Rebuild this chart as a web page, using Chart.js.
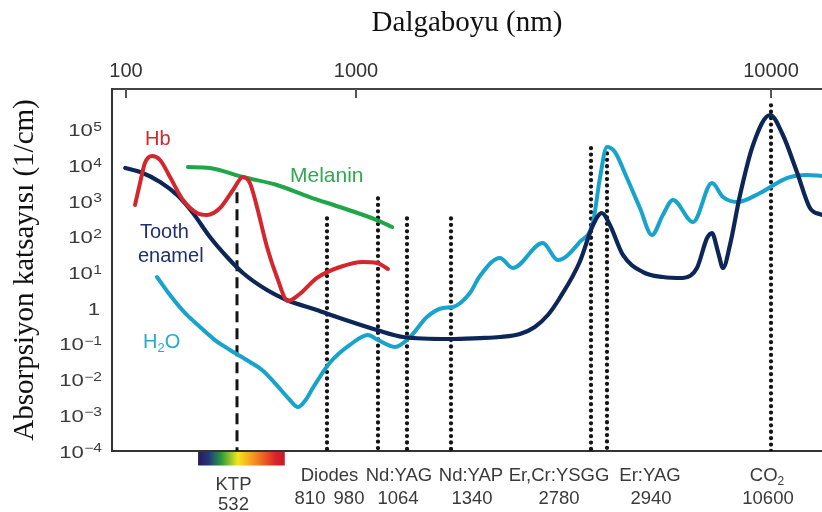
<!DOCTYPE html>
<html><head><meta charset="utf-8">
<script src="https://cdn.jsdelivr.net/npm/chart.js@4.4.1/dist/chart.umd.min.js"></script>
<style>html,body{margin:0;padding:0;background:#fff}#wrap{width:822px;height:512px}</style>
</head><body><div id="wrap"><canvas id="c" width="822" height="512"></canvas></div>
<script>
// ---------------- data (wavelength in nm, absorption coefficient in 1/cm) ----------------
const toothX = [99,124,167,216,274,354,458,547,612,671,772,840,976,1052,1332,1558,1729,1919,2074,2220,2362,2621,2800,2887,3008,3330,3894,4550,5320,5940,6430,6680,7005,7285,7690,8320,9210,10520,11310,12210,13110,14000];
const toothY = [8600,6640,3480,1500,470,100,27.5,9.8,3.26,1.71,0.90,0.57,0.246,0.157,0.138,0.147,0.157,0.19,0.30,0.65,1.95,19.9,217,470,217,31.3,10.4,7.55,7.08,13.5,93.5,129,37.9,13.5,59.6,1500,37900,263000,72300,6640,650,413];

const hbX = [114.5,123.5,133,148,167,194,236,291,339,412,501,547,565,584,612,641,675,713,772,850,926,976,1008];
const hbY = [789,3260,11860,18620,14390,4800,1089,470,413,650,2075,4800,3260,693,52.4,7.55,1.60,2.52,7.08,14.4,19.9,18.7,12.7];

const melX = [254,354,547,641,747,859,976,1020];
const melY = [9160,8590,4800,2865,1321,650,299,190];

const h2oX = [159.5,194,243,305,382,479,565,598,635,681,707,733,758,818,882,944,980,1028,1081,1181,1285,1354,1479,1558,1729,1850,2162,2338,2621,2800,2868,2940,3128,3436,3804,4178,4550,4924,5760,6680,7285,8130,9731,11560,12890,14000];
const h2oY = [7.55,2.36,0.74,0.30,0.129,0.068,0.0313,0.0187,0.00805,0.00269,0.00171,0.00269,0.00583,0.0293,0.0938,0.179,0.129,0.0824,0.157,0.57,1.02,1.09,2.69,8.05,25.8,13.5,67.8,22.6,72.3,263,4500,33300,24100,4500,650,114,413,1089,263,3260,1321,957,1710,4500,5470,5130];

// laser lines
const laserLambda = [532, 810, 980, 1064, 1340, 2780, 2940, 10600];
const laserTop    = [1800, 330, 1200, 330, 330, 31000, 22000, 490000];

// axis ticks
const topTickValues = [100, 1000, 10000];
const yTickValues = [1e-4,1e-3,1e-2,1e-1,1,1e1,1e2,1e3,1e4,1e5];

// visible spectrum band (nm)
const spectrumRange = [296, 665];

// ---------------- axis calibration (schematic, non-uniform wavelength axes) ----------------
const xCalLambda = [83, 100, 532, 810, 980, 1064, 1340, 2780, 2940, 10600, 14000];
const xCalFrac   = [0, 0.01972, 0.17606, 0.30282, 0.37465, 0.41549, 0.47746, 0.67465, 0.69718, 0.92817, 1];
const topCalLambda = [87, 100, 1000, 10000, 13270];
const topCalFrac   = [0, 0.01972, 0.34366, 0.92817, 1];

function makeWarp(lams, fracs){
  const L = lams.map(v => Math.log10(v));
  return {
    toFrac(v){ const lv = Math.log10(v); let i = 0; while (i < L.length-2 && lv > L[i+1]) i++;
      return fracs[i] + (lv-L[i])/(L[i+1]-L[i])*(fracs[i+1]-fracs[i]); },
    fromFrac(f){ let i = 0; while (i < fracs.length-2 && f > fracs[i+1]) i++;
      return Math.pow(10, L[i] + (f-fracs[i])/(fracs[i+1]-fracs[i])*(L[i+1]-L[i])); }
  };
}
const WARPS = { x: makeWarp(xCalLambda, xCalFrac), xTop: makeWarp(topCalLambda, topCalFrac) };

class WarpLogScale extends Chart.LogarithmicScale {
  getPixelForValue(value){
    if (value === null || value === undefined || isNaN(value) || value <= 0) return NaN;
    return this.getPixelForDecimal(WARPS[this.id].toFrac(value));
  }
  getValueForPixel(pixel){ return WARPS[this.id].fromFrac(this.getDecimalForPixel(pixel)); }
}
WarpLogScale.id = 'warplog';
WarpLogScale.defaults = {};
Chart.register(WarpLogScale);

// ---------------- build datasets ----------------
const zip = (xs, ys) => xs.map((x, i) => ({x, y: ys[i]}));
function curve(xs, ys, color, w){
  return { data: zip(xs, ys), borderColor: color, borderWidth: w, pointRadius: 0, fill: false,
           cubicInterpolationMode: 'monotone', xAxisID: 'x', yAxisID: 'y', borderCapStyle: 'round', borderJoinStyle: 'round' };
}
const datasets = [
  curve(hbX, hbY, '#d4272d', 4),
  curve(melX, melY, '#20a548', 4),
  curve(toothX, toothY, '#0c2658', 4.2),
  curve(h2oX, h2oY, '#18a3cc', 4),
];
laserLambda.forEach((lam, i) => {
  const dashed = i === 0;
  datasets.push({
    data: [{x: lam, y: laserTop[i]}, {x: lam, y: 1e-4}],
    borderColor: '#141414', borderWidth: dashed ? 3 : 4.3, pointRadius: 0, fill: false, tension: 0,
    borderDash: dashed ? [11, 6] : [0, 6.4], borderCapStyle: dashed ? 'butt' : 'round',
    xAxisID: 'x', yAxisID: 'y'
  });
});

// ---------------- labels ----------------
const SANS = '"Liberation Sans", Arial, Helvetica, sans-serif';
const laserLabels = [
  {t:'KTP', lam:532, dx:-3.5, base:490}, {t:'532', lam:532, dx:-3.5, base:510},
  {t:'Diodes', lam:810, dx:2.5, base:481}, {t:'810', lam:810, dx:-17, base:504}, {t:'980', lam:980, dx:-29, base:504},
  {t:'Nd:YAG', lam:1064, dx:-8, base:481}, {t:'1064', lam:1064, dx:-9, base:504},
  {t:'Nd:YAP', lam:1340, dx:20, base:481}, {t:'1340', lam:1340, dx:21, base:504},
  {t:'Er,Cr:YSGG', lam:2780, dx:-32, base:481}, {t:'2780', lam:2780, dx:-32, base:504},
  {t:'Er:YAG', lam:2940, dx:43, base:481}, {t:'2940', lam:2940, dx:44, base:504},
  {t:'10600', lam:10600, dx:-3, base:504}
];

function txt(ctx, s, x, y, size, color, align, sx){
  ctx.save(); ctx.font = size + 'px ' + SANS; ctx.fillStyle = color;
  ctx.textAlign = align || 'left'; ctx.textBaseline = 'alphabetic';
  ctx.translate(x, y); ctx.scale(sx || 1, 1); ctx.fillText(s, 0, 0); ctx.restore();
}
function tw(ctx, s, size, sx){ ctx.save(); ctx.font = size + 'px ' + SANS; const w = ctx.measureText(s).width * (sx||1); ctx.restore(); return w; }

const deco = {
  id: 'deco',
  afterDraw(chart){
    const ctx = chart.ctx, ca = chart.chartArea;
    const xs = chart.scales.x, ys = chart.scales.y, xt = chart.scales.xTop;
    // inward tick marks on the top axis
    ctx.save(); ctx.strokeStyle = '#555'; ctx.lineWidth = 2;
    topTickValues.forEach(v => { const px = xt.getPixelForValue(v); ctx.beginPath(); ctx.moveTo(px, ca.top); ctx.lineTo(px, ca.top + 9); ctx.stroke(); });
    ctx.restore();
    // y tick labels with superscripts
    const col = '#3a3a3a';
    yTickValues.forEach(v => {
      const e = Math.round(Math.log10(v)); const py = ys.getPixelForValue(v);
      if (e === 0) { txt(ctx, '1', 100, py + 6.5, 17, col, 'right', 1.3); return; }
      const es = e < 0 ? '\u2212' + (-e) : String(e);
      const ew = tw(ctx, es, 12, 1.3);
      txt(ctx, es, 102, py + 1, 12, col, 'right', 1.3);
      txt(ctx, '10', 102 - ew - 0.5, py + 6.5, 17, col, 'right', 1.3);
    });
    // spectrum band
    const x0 = xs.getPixelForValue(spectrumRange[0]), x1 = xs.getPixelForValue(spectrumRange[1]);
    const g = ctx.createLinearGradient(x0, 0, x1, 0);
    [[0,'#2a1b57'],[0.12,'#24367e'],[0.27,'#2c9a3e'],[0.38,'#9cc92e'],[0.46,'#f5e41c'],[0.6,'#f5a720'],[0.78,'#ea5525'],[0.9,'#d8222b'],[1,'#c21d2b']].forEach(s => g.addColorStop(s[0], s[1]));
    ctx.save(); ctx.fillStyle = g; ctx.fillRect(x0, ca.bottom + 1, x1 - x0, 13.5); ctx.restore();
    // laser labels
    laserLabels.forEach(l => txt(ctx, l.t, xs.getPixelForValue(l.lam) + l.dx, l.base, 18.5, col, 'center'));
    // CO2 with subscript
    const cx = xs.getPixelForValue(10600) - 4;
    const wCO = tw(ctx, 'CO', 18.5), w2 = tw(ctx, '2', 12);
    txt(ctx, 'CO', cx - (wCO + w2)/2, 481, 18.5, col, 'left');
    txt(ctx, '2', cx - (wCO + w2)/2 + wCO, 485, 12, col, 'left');
    // in-plot curve labels
    txt(ctx, 'Hb', 145, 145, 20, '#d0282e', 'left');
    txt(ctx, 'Melanin', 290, 182, 21, '#2fa84f', 'left');
    txt(ctx, 'Tooth', 140, 238, 20, '#1e3070', 'left');
    txt(ctx, 'enamel', 138, 262, 20, '#1e3070', 'left');
    const hw = tw(ctx, 'H', 20), sw = tw(ctx, '2', 13);
    txt(ctx, 'H', 143, 348, 20, '#29a8d4', 'left');
    txt(ctx, '2', 143 + hw, 352, 13, '#29a8d4', 'left');
    txt(ctx, 'O', 143 + hw + sw, 348, 20, '#29a8d4', 'left');
  }
};

new Chart(document.getElementById('c'), {
  type: 'line',
  data: { datasets },
  plugins: [deco],
  options: {
    responsive: false, animation: false, events: [],
    layout: { padding: 0 },
    plugins: { legend: { display: false }, tooltip: { enabled: false }, title: { display: false } },
    scales: {
      x: { type: 'warplog', position: 'bottom', min: 83, max: 14000,
           ticks: { display: false }, grid: { display: false },
           border: { display: true, color: '#333', width: 2 },
           afterFit: s => { s.height = 61; } },
      xTop: { type: 'warplog', position: 'top', min: 87, max: 13270,
           afterBuildTicks: s => { s.ticks = topTickValues.map(v => ({value: v})); },
           ticks: { display: true, autoSkip: false, maxRotation: 0, padding: 6, color: '#333',
                    font: { family: SANS, size: 20 }, callback: v => String(v) },
           grid: { display: false, drawTicks: false },
           border: { display: true, color: '#444', width: 2 },
           title: { display: true, text: 'Dalgaboyu (nm)', color: '#111',
                    font: { family: '"Liberation Serif", "Times New Roman", serif', size: 29 }, padding: { top: 6, bottom: 0 } },
           afterFit: s => { s.height = 89; } },
      y: { type: 'logarithmic', position: 'left', min: 1e-4, max: 1.41e6,
           afterBuildTicks: s => { s.ticks = yTickValues.map(v => ({value: v})); },
           ticks: { display: false }, grid: { display: false },
           border: { display: true, color: '#333', width: 2 },
           title: { display: true, text: 'Absorpsiyon katsayısı (1/cm)', color: '#111',
                    font: { family: '"Liberation Serif", "Times New Roman", serif', size: 29 }, padding: { top: 8, bottom: 0 } },
           afterFit: s => { s.width = 112; } }
    }
  }
});
</script></body></html>
